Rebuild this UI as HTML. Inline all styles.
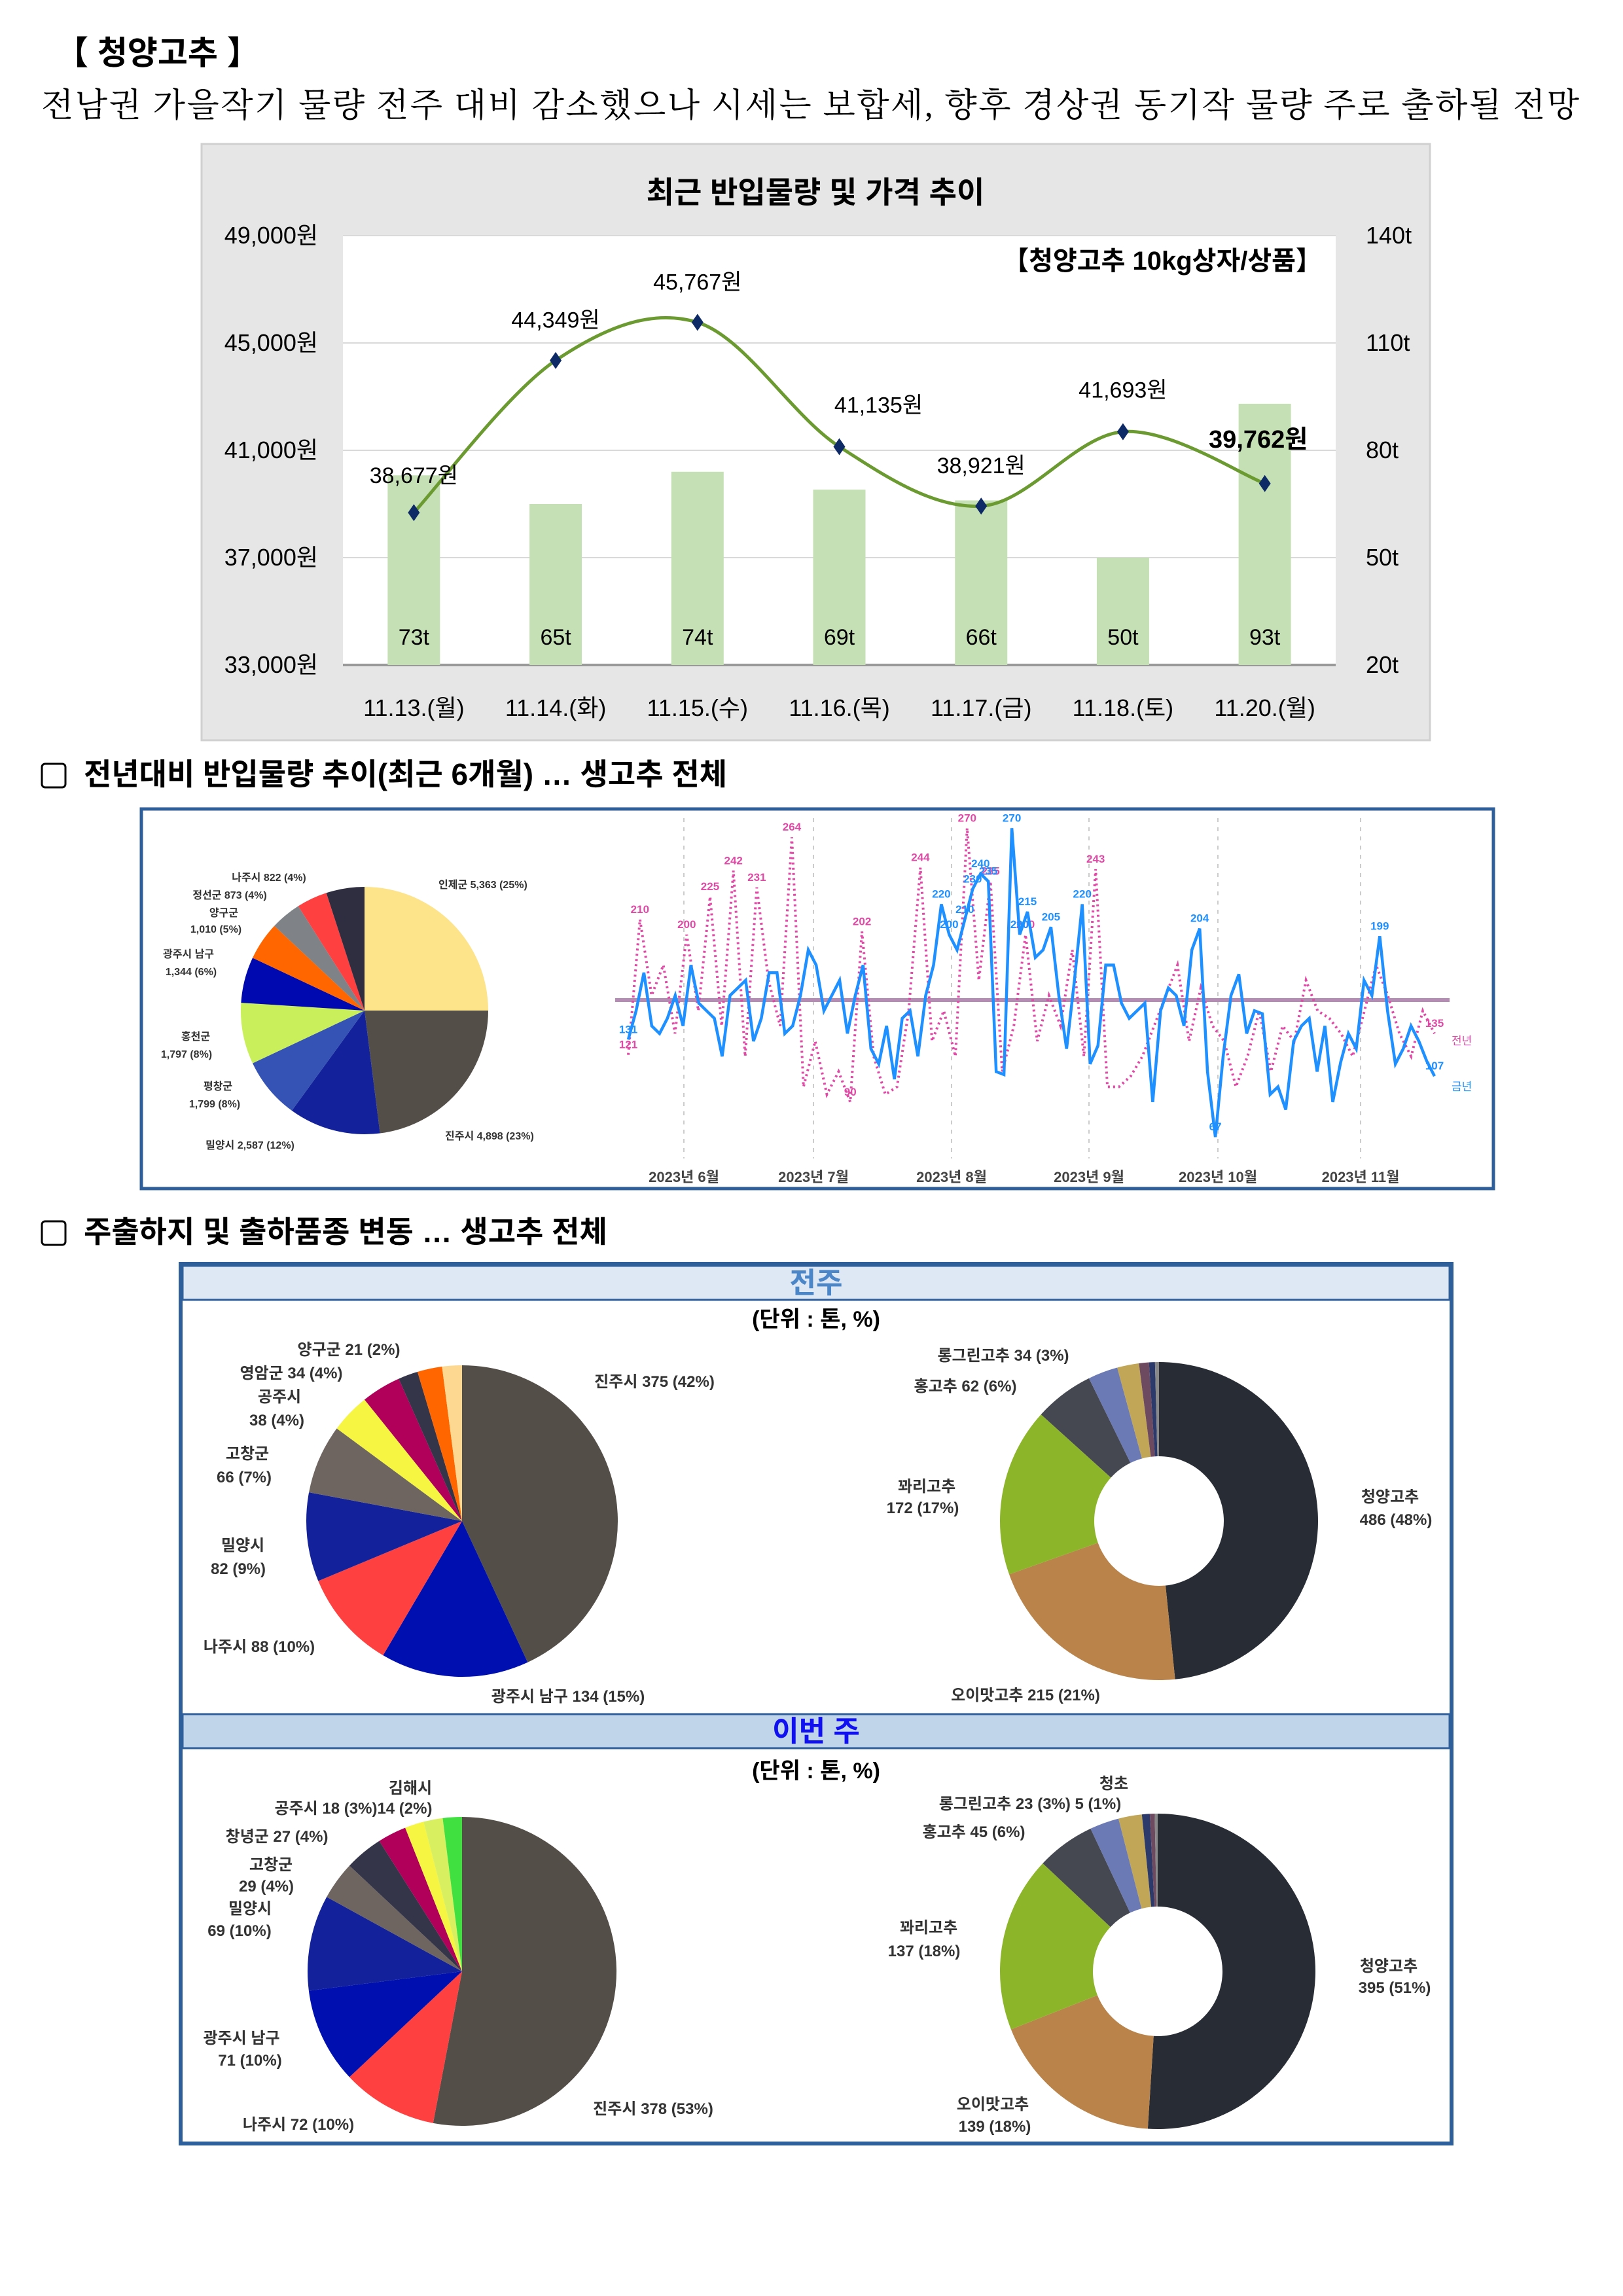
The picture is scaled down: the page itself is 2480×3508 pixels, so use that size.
<!DOCTYPE html>
<html><head><meta charset="utf-8">
<style>
html,body{margin:0;padding:0;background:#fff;}
body{width:2480px;height:3508px;position:relative;overflow:hidden;font-family:"Liberation Sans","Noto Sans CJK KR",sans-serif;}
svg{position:absolute;left:0;top:0;}
</style></head>
<body>
<svg id="page" width="2480" height="3508" viewBox="0 0 2480 3508" xmlns="http://www.w3.org/2000/svg">
<g font-family="Liberation Sans, Noto Sans CJK KR, sans-serif">
<text x="85" y="98" font-size="50" font-weight="bold" fill="#000">【 청양고추 】</text>
<text x="63" y="178" font-size="51" font-family="Liberation Serif, Noto Serif CJK SC, serif" fill="#000" textLength="2350">전남권 가을작기 물량 전주 대비 감소했으나 시세는 보합세, 향후 경상권 동기작 물량 주로 출하될 전망</text>

<!-- chart 1 -->
<rect x="308" y="220" width="1877" height="911" fill="#e6e6e6" stroke="#d0d0d0" stroke-width="3"/>
<text x="1246" y="310" font-size="46" font-weight="bold" text-anchor="middle">최근 반입물량 및 가격 추이</text>
<rect x="524" y="360" width="1517" height="656" fill="#fff"/>
<g id="c1grid"></g>
<g id="c1bars"></g>
<g id="c1line"></g>
<g id="c1labels" font-size="34"></g>
<text x="2020" y="412" font-size="40" font-weight="bold" text-anchor="end">【청양고추 10kg상자/상품】</text>

<!-- section 2 -->
<rect x="64" y="1167" width="36" height="36" rx="5" fill="#fff" stroke="#000" stroke-width="3"/>
<text x="128" y="1199" font-size="46" font-weight="bold">전년대비 반입물량 추이(최근 6개월) … 생고추 전체</text>
<rect x="216" y="1236" width="2066" height="580" fill="#fff" stroke="#2f5f9a" stroke-width="5"/>
<g id="pieA"></g>
<g id="lineChart"></g>

<!-- section 3 -->
<rect x="64" y="1866" width="36" height="36" rx="5" fill="#fff" stroke="#000" stroke-width="3"/>
<text x="128" y="1898" font-size="46" font-weight="bold">주출하지 및 출하품종 변동 … 생고추 전체</text>
<rect x="276" y="1931" width="1942" height="1344" fill="#fff" stroke="#2f5f9a" stroke-width="6"/>
<rect x="279" y="1934" width="1936" height="52" fill="#dde8f4" stroke="#2f5f9a" stroke-width="3"/>
<text x="1247" y="1975" font-size="44" font-weight="bold" fill="#4a86c8" text-anchor="middle">전주</text>
<text x="1247" y="2027" font-size="34" font-weight="bold" text-anchor="middle">(단위 : 톤, %)</text>
<rect x="279" y="2619" width="1936" height="52" fill="#c0d4ea" stroke="#2f5f9a" stroke-width="3"/>
<text x="1247" y="2660" font-size="44" font-weight="bold" fill="#1010f0" text-anchor="middle">이번 주</text>
<text x="1247" y="2717" font-size="34" font-weight="bold" text-anchor="middle">(단위 : 톤, %)</text>
<g id="pieB"></g><g id="donutB"></g><g id="pieC"></g><g id="donutC"></g>
</g>
</svg>
<script>
// ---------- chart 1 data ----------
const dates = ["11.13.(월)","11.14.(화)","11.15.(수)","11.16.(목)","11.17.(금)","11.18.(토)","11.20.(월)"];
const prices = [38677,44349,45767,41135,38921,41693,39762];
const volumes = [73,65,74,69,66,50,93];
const leftTicks = [33000,37000,41000,45000,49000];
const rightTicks = [20,50,80,110,140];

// ---------- pie / donut data ----------
const pieAValues = [25,23,12,8,8,6,5,4,4,5];
const pieBValues = [42,15,10,9,7,4,4,2,2.5,2];
const donutBValues = [48,21,17,6,3,2.2,1,0.6,0.4];
const pieCValues = [53,10,10,10,4,4,3,2,2,2];
const donutCValues = [51,18,18,6,3,2.4,0.8,0.5,0.3];

// ---------- line chart data ----------
const thisYear = [131,150,175,140,135,145,160,140,180,155,150,145,120,160,165,170,130,145,175,175,135,140,160,190,180,150,160,170,135,160,180,125,115,140,105,145,150,120,160,180,220,200,190,210,230,240,235,110,108,270,200,215,185,190,205,160,125,170,220,115,127,180,180,155,145,150,155,90,150,165,160,140,190,204,110,67,120,160,174,135,150,148,95,100,85,130,140,145,110,140,90,116,135,125,170,160,199,150,115,125,140,130,117,107];
const lastYear = [121,210,160,180,135,200,150,225,140,242,120,231,170,140,264,100,130,95,110,90,202,120,95,100,150,244,130,150,120,270,170,235,110,140,200,130,160,140,190,120,243,100,100,107,120,140,160,180,130,165,140,130,100,120,150,110,140,130,170,150,145,135,120,150,180,160,135,120,150,135];
const monthLabels = ["2023년 6월","2023년 7월","2023년 8월","2023년 9월","2023년 10월","2023년 11월"];
const avgValue = 157;

const NS="http://www.w3.org/2000/svg";
function mk(tag,attrs,parent){const e=document.createElementNS(NS,tag);for(const k in attrs)e.setAttribute(k,attrs[k]);parent.appendChild(e);return e;}
function fmt(n){return n.toString().replace(/\B(?=(\d{3})+(?!\d))/g,",");}

// ---------- chart 1 ----------
(function(){
 const X0=524,X1=2041,Y0=1016,Y1=360;
 const band=(X1-X0)/dates.length;
 const xc=i=>X0+band*(i+0.5);
 const yL=v=>Y0-(v-33000)/(49000-33000)*(Y0-Y1);
 const yR=v=>Y0-(v-20)/(140-20)*(Y0-Y1);
 const grid=document.getElementById('c1grid');
 leftTicks.forEach((t,i)=>{
  const l=mk('line',{x1:X0,x2:X1,y1:yL(t),y2:yL(t),stroke:i===0?'#999':'#d9d9d9','stroke-width':i===0?4:2},grid);
  
  
  const tx=mk('text',{x:486,y:yL(t)+12,'font-size':36,'text-anchor':'end'},grid);tx.textContent=fmt(t)+"원";
  
  
 });
 rightTicks.forEach(t=>{
  const tx=mk('text',{x:2087,y:yR(t)+12,'font-size':36},grid);tx.textContent=t+"t";
  
  
 });
 const bars=document.getElementById('c1bars');
 volumes.forEach((v,i)=>{
  const r=mk('rect',{x:xc(i)-40,y:yR(v),width:80,height:Y0-yR(v),fill:'#c5e0b4'},bars);
  
  
  const t=mk('text',{x:xc(i),y:985,'font-size':34,'text-anchor':'middle'},bars);t.textContent=v+"t";
  
  
  const d=mk('text',{x:xc(i),y:1094,'font-size':36,'text-anchor':'middle'},bars);d.textContent=dates[i];
  
  
 });
 const pts=prices.map((p,i)=>[xc(i),yL(p)]);
 let d=`M${pts[0][0]},${pts[0][1]}`;
 for(let i=0;i<pts.length-1;i++){
  const p0=pts[Math.max(0,i-1)],p1=pts[i],p2=pts[i+1],p3=pts[Math.min(pts.length-1,i+2)];
  const c1=[p1[0]+(p2[0]-p0[0])/6,p1[1]+(p2[1]-p0[1])/6];
  const c2=[p2[0]-(p3[0]-p1[0])/6,p2[1]-(p3[1]-p1[1])/6];
  d+=` C${c1[0]},${c1[1]} ${c2[0]},${c2[1]} ${p2[0]},${p2[1]}`;
 }
 const lg=document.getElementById('c1line');
 const path=mk('path',{d:d,fill:'none',stroke:'#6a9a30','stroke-width':5},lg);
 
 
 const lab=document.getElementById('c1labels');
 const offs=[[0,-45],[0,-50],[0,-50],[60,-52],[0,-50],[0,-52],[-10,-55]];
 pts.forEach((p,i)=>{
  const m=mk('path',{d:`M${p[0]},${p[1]-13} L${p[0]+9},${p[1]} L${p[0]},${p[1]+13} L${p[0]-9},${p[1]} Z`,fill:'#0d2a66'},lg);
  
  
  const t=mk('text',{x:p[0]+offs[i][0],y:p[1]+offs[i][1],'text-anchor':'middle','font-size':i===6?38:34,'font-weight':i===6?'bold':'normal'},lab);
  t.textContent=fmt(prices[i])+"원";
  
  
 });
})();

// ---------- pies ----------
function pie(gid,values,colors,cx,cy,r,inner,name){
 const g=document.getElementById(gid);
 const tot=values.reduce((a,b)=>a+b,0);
 let a=-Math.PI/2;
 values.forEach((v,i)=>{
  const b=a+v/tot*2*Math.PI;const large=(b-a)>Math.PI?1:0;
  let d;
  if(inner>0){
   d=`M${cx+r*Math.cos(a)},${cy+r*Math.sin(a)} A${r},${r} 0 ${large} 1 ${cx+r*Math.cos(b)},${cy+r*Math.sin(b)} L${cx+inner*Math.cos(b)},${cy+inner*Math.sin(b)} A${inner},${inner} 0 ${large} 0 ${cx+inner*Math.cos(a)},${cy+inner*Math.sin(a)} Z`;
  } else {
   d=`M${cx},${cy} L${cx+r*Math.cos(a)},${cy+r*Math.sin(a)} A${r},${r} 0 ${large} 1 ${cx+r*Math.cos(b)},${cy+r*Math.sin(b)} Z`;
  }
  const p=mk('path',{d:d,fill:colors[i%colors.length]},g);
  
  
  a=b;
 });
}
function labels(gid,items,size,name){
 const g=document.getElementById(gid);
 items.forEach(it=>{
  const t=mk('text',{x:it[0],y:it[1],'font-size':size,'font-weight':'bold','text-anchor':it[3]||'middle',fill:'#333'},g);
  t.textContent=it[2];
  
  
 });
}
pie('pieA',pieAValues,['#fde38a','#544e48','#13229a','#3553b5','#c9f05a','#0008b0','#ff6600','#7f8387','#ff4040','#2e2e40'],557,1544,189,0,'origin-share');
labels('pieA',[[411,1346,'나주시 822 (4%)'],[351,1373,'정선군 873 (4%)'],[342,1400,'양구군'],[330,1425,'1,010 (5%)'],[288,1463,'광주시 남구'],[292,1490,'1,344 (6%)'],[299,1589,'홍천군'],[285,1616,'1,797 (8%)'],[333,1665,'평창군'],[328,1692,'1,799 (8%)'],[382,1755,'밀양시 2,587 (12%)'],[670,1357,'인제군 5,363 (25%)','start'],[680,1741,'진주시 4,898 (23%)','start']],16,'origin-share');

pie('pieB',pieBValues,['#544e48','#0010b0','#ff4040','#13229a','#6e6560','#f5f542','#b0005a','#35354a','#ff6600','#fcd890'],706,2324,238,0,'prev-origin');
labels('pieB',[[533,2070,'양구군 21 (2%)'],[445,2106,'영암군 34 (4%)'],[427,2142,'공주시'],[423,2178,'38 (4%)'],[378,2229,'고창군'],[373,2265,'66 (7%)'],[371,2369,'밀양시'],[364,2405,'82 (9%)'],[396,2524,'나주시 88 (10%)'],[868,2600,'광주시 남구 134 (15%)'],[1000,2119,'진주시 375 (42%)']],24,'prev-origin');
pie('donutB',donutBValues,['#282c35','#b9834a','#8db52a','#464851','#6b7ab5','#c0a656','#6e4a60','#2b3a6a','#888'],1771,2324,243,99,'prev-variety');
labels('donutB',[[1533,2079,'롱그린고추 34 (3%)'],[1475,2126,'홍고추 62 (6%)'],[1416,2279,'꽈리고추'],[1410,2312,'172 (17%)'],[2124,2295,'청양고추'],[2133,2330,'486 (48%)'],[1567,2598,'오이맛고추 215 (21%)']],24,'prev-variety');

pie('pieC',pieCValues,['#544e48','#ff4040','#0010b0','#13229a','#6e6560','#35354a','#b0005a','#f5f542','#d8f060','#40e040'],706,3012,236,0,'this-origin');
labels('pieC',[[627,2740,'김해시'],[540,2771,'공주시 18 (3%)14 (2%)'],[423,2814,'창녕군 27 (4%)'],[414,2857,'고창군'],[407,2890,'29 (4%)'],[382,2924,'밀양시'],[366,2958,'69 (10%)'],[369,3122,'광주시 남구'],[382,3156,'71 (10%)'],[456,3254,'나주시 72 (10%)'],[998,3230,'진주시 378 (53%)']],24,'this-origin');
pie('donutC',donutCValues,['#282c35','#b9834a','#8db52a','#464851','#6b7ab5','#c0a656','#2b3a6a','#6e4a60','#888'],1769,3012,241,99,'this-variety');
labels('donutC',[[1702,2733,'청초'],[1574,2764,'롱그린고추 23 (3%) 5 (1%)'],[1488,2807,'홍고추 45 (6%)'],[1419,2953,'꽈리고추'],[1412,2989,'137 (18%)'],[2122,3012,'청양고추'],[2131,3045,'395 (51%)'],[1517,3223,'오이맛고추'],[1520,3257,'139 (18%)']],24,'this-variety');

// ---------- line chart ----------
(function(){
 const g=document.getElementById('lineChart');
 const XS=960,XE=2192;
 const y=v=>1893-2.325*v;
 const monthX=[1045,1243,1454,1664,1861,2079];
 monthX.forEach((mx,i)=>{
  const l=mk('line',{x1:mx,x2:mx,y1:1250,y2:1770,stroke:'#ccc','stroke-width':2,'stroke-dasharray':'6 8'},g);
  
  
  const t=mk('text',{x:mx,y:1806,'font-size':22,'font-weight':'bold','text-anchor':'middle',fill:'#444'},g);
  t.textContent=monthLabels[i];
  
  
 });
 const avg=mk('line',{x1:940,x2:2215,y1:y(avgValue),y2:y(avgValue),stroke:'#b48cb4','stroke-width':6},g);
 
 
 function series(vals,color,dash,name){
  const n=vals.length;
  const xs=i=>XS+(XE-XS)*i/(n-1);
  const d=vals.map((v,i)=>(i?'L':'M')+xs(i).toFixed(1)+','+y(v).toFixed(1)).join(' ');
  const p=mk('path',{d:d,fill:'none',stroke:color,'stroke-width':dash?4:4.5},g);
  if(dash)p.setAttribute('stroke-dasharray','3 5');
  
  
  const mx=Math.max(...vals);
  vals.forEach((v,i)=>{
   if(v>=199||v===Math.min(...vals)||i===0||i===n-1){
    const t=mk('text',{x:xs(i),y:y(v)-10,'font-size':17,'font-weight':'bold','text-anchor':'middle',fill:color},g);
    t.textContent=v;
    
    
   }
  });
 }
 series(lastYear,'#e04aa6',true,'last-year-line');
 series(thisYear,'#1e90ff',false,'this-year-line');
 const l1=mk('text',{x:2218,y:1596,'font-size':17,fill:'#e04aa6'},g);l1.textContent='전년';
 
 
 const l2=mk('text',{x:2218,y:1666,'font-size':17,fill:'#1e90ff'},g);l2.textContent='금년';
 
 
})();
</script>
</body></html>
